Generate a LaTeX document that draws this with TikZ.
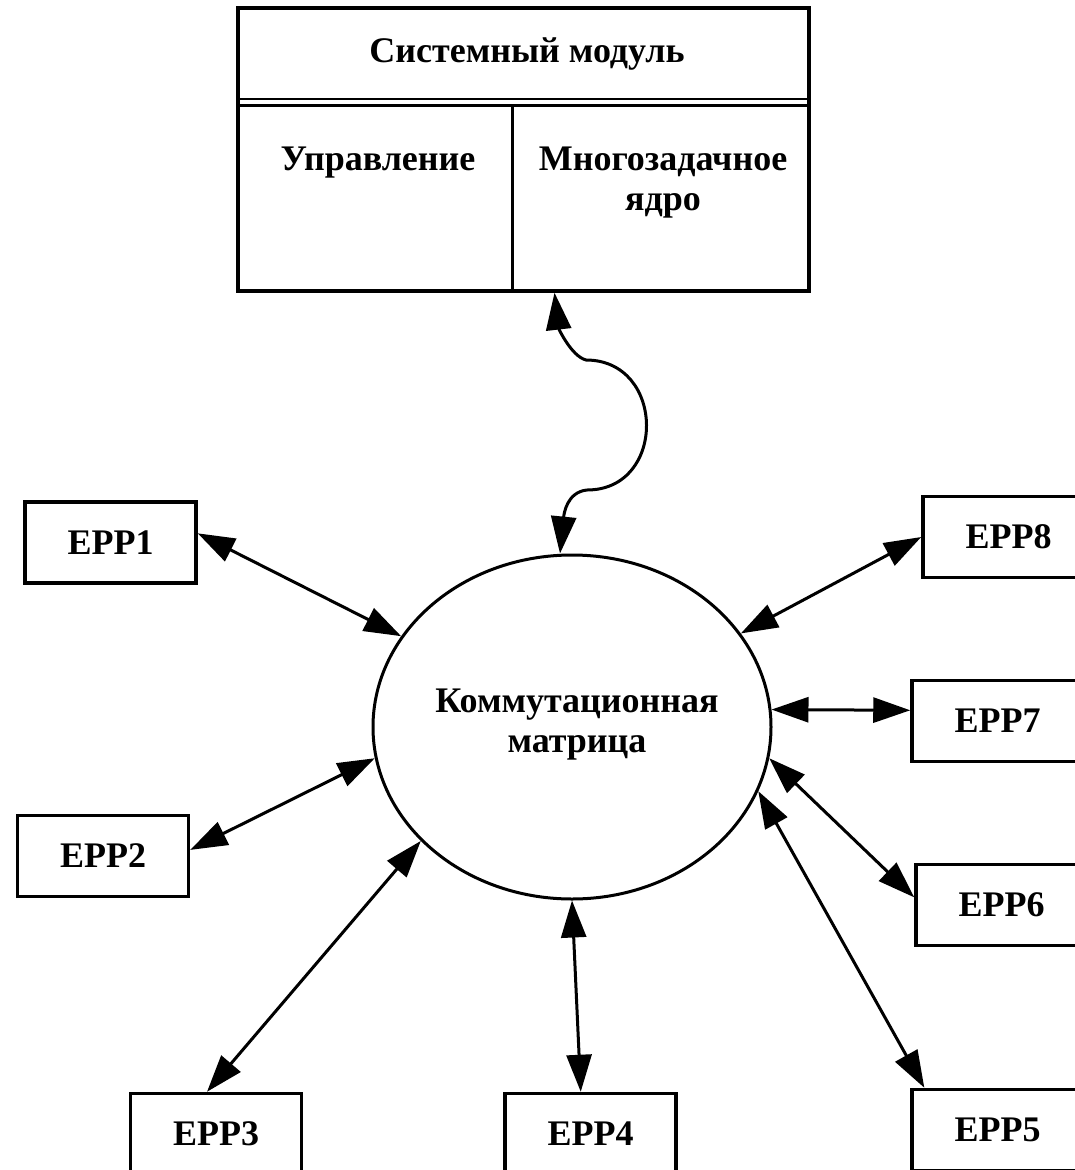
\documentclass[tikz,border=0pt]{standalone}
\usepackage{fontspec}
\setmainfont{Liberation Serif}
\usetikzlibrary{shapes.geometric,arrows.meta}
\begin{document}
\begin{tikzpicture}[x=1pt,y=-1pt,line width=3pt,>={Triangle[length=37pt,width=25pt]},
  box/.style={draw,line width=3.5pt,minimum width=171pt,minimum height=81pt,font=\fontsize{36}{42}\selectfont\bfseries},
  lbl/.style={anchor=base,align=center,font=\fontsize{36}{40}\selectfont\bfseries}]
 \useasboundingbox (0,0) rectangle (1074,1170);
 % system module
 \node[draw,line width=3.5pt,minimum width=571pt,minimum height=283pt] (sys) at (523.5,149.5) {};
 \draw[line width=2.5pt] (238,99) -- (809,99) (238,105.5) -- (809,105.5);
 \draw (512,105.5) -- (512,291);
 \node[lbl] (systitle) at (527,62) {Системный модуль};
 \node[lbl] (ctl) at (378,170) {Управление};
 \node[lbl] (core) at (663,210) {Многозадачное\\ядро};
 % switching matrix
 \node[draw,ellipse,minimum width=398pt,minimum height=344pt,lbl,anchor=center] (mat) at (572,727) {};
 \node[lbl] (matlbl) at (577,752) {Коммутационная\\матрица};
 \foreach \n/\x/\y in {1/110.5/542.5,2/103/856,3/216/1134,4/590.5/1134,5/997.5/1130,6/1001.5/905,7/997.5/721,8/1008.5/537}
  \node[box] (e\n) at (\x,\y) {EPP\n};
 \foreach \n/\a/\b in {1/152/6,2/189/4,3/217/102,4/270/103,5/341/150,6/351/175,7/5/173,8/29/180}
  \draw[<->] (mat.\a) -- (e\n.\b);
 \draw[<->] ([xshift=31pt]sys.south) .. controls +(4,35) and +(-15,-4) .. (586,360)
  .. controls +(80,0) and +(80,0) .. (587,490) .. controls +(-20,2) and +(4,-40) .. ([xshift=-12pt]mat.north);
\end{tikzpicture}
\end{document}
